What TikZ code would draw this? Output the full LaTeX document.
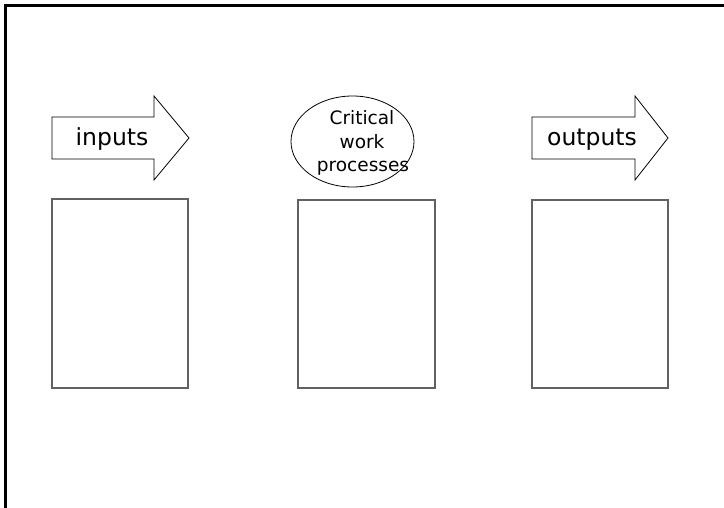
\documentclass[tikz,border=0pt]{standalone}
\usepackage{fontspec}
\setmainfont{DejaVu Sans}
\begin{document}
\begin{tikzpicture}[x=1pt,y=-1pt,
  frame/.style={line width=2.6pt},
  blockarrow/.style={draw=black, line width=0.8pt, fill=white},
  panel/.style={draw=black!62, line width=1.3pt},
  oval/.style={draw=black, line width=0.8pt},
  arrowtext/.style={anchor=base, inner sep=0pt, font=\fontsize{23.5}{28}\selectfont},
  ovaltext/.style={anchor=base, inner sep=0pt, font=\fontsize{18.5}{22}\selectfont},
]
\useasboundingbox (0,0) rectangle (724,508);

% page frame: top and left edges only
\draw[frame] (5.5,508) -- (5.5,5.5) -- (724,5.5);

% block arrows
\draw[blockarrow] (52,117) -- (154,117) -- (154,96) -- (189,138) -- (154,180)
  -- (154,159) -- (52,159) -- cycle;
\draw[blockarrow] (532,117) -- (635,117) -- (635,96) -- (668,138) -- (635,180)
  -- (635,159) -- (532,159) -- cycle;
\node[arrowtext] (inputs) at (112,146) {inputs};
\node[arrowtext] (outputs) at (592,146) {outputs};

% central oval
\draw[oval] (352.5,141.5) ellipse [x radius=61.5, y radius=45.5];
\node[ovaltext] (crit) at (362,125) {Critical};
\node[ovaltext] (work) at (362,149) {work};
\node[ovaltext] (proc) at (363,172) {processes};

% three empty panels
\draw[panel] (52,199) rectangle (188,388);
\draw[panel] (298,200) rectangle (435,388);
\draw[panel] (532,200) rectangle (668,388);
\end{tikzpicture}
\end{document}
